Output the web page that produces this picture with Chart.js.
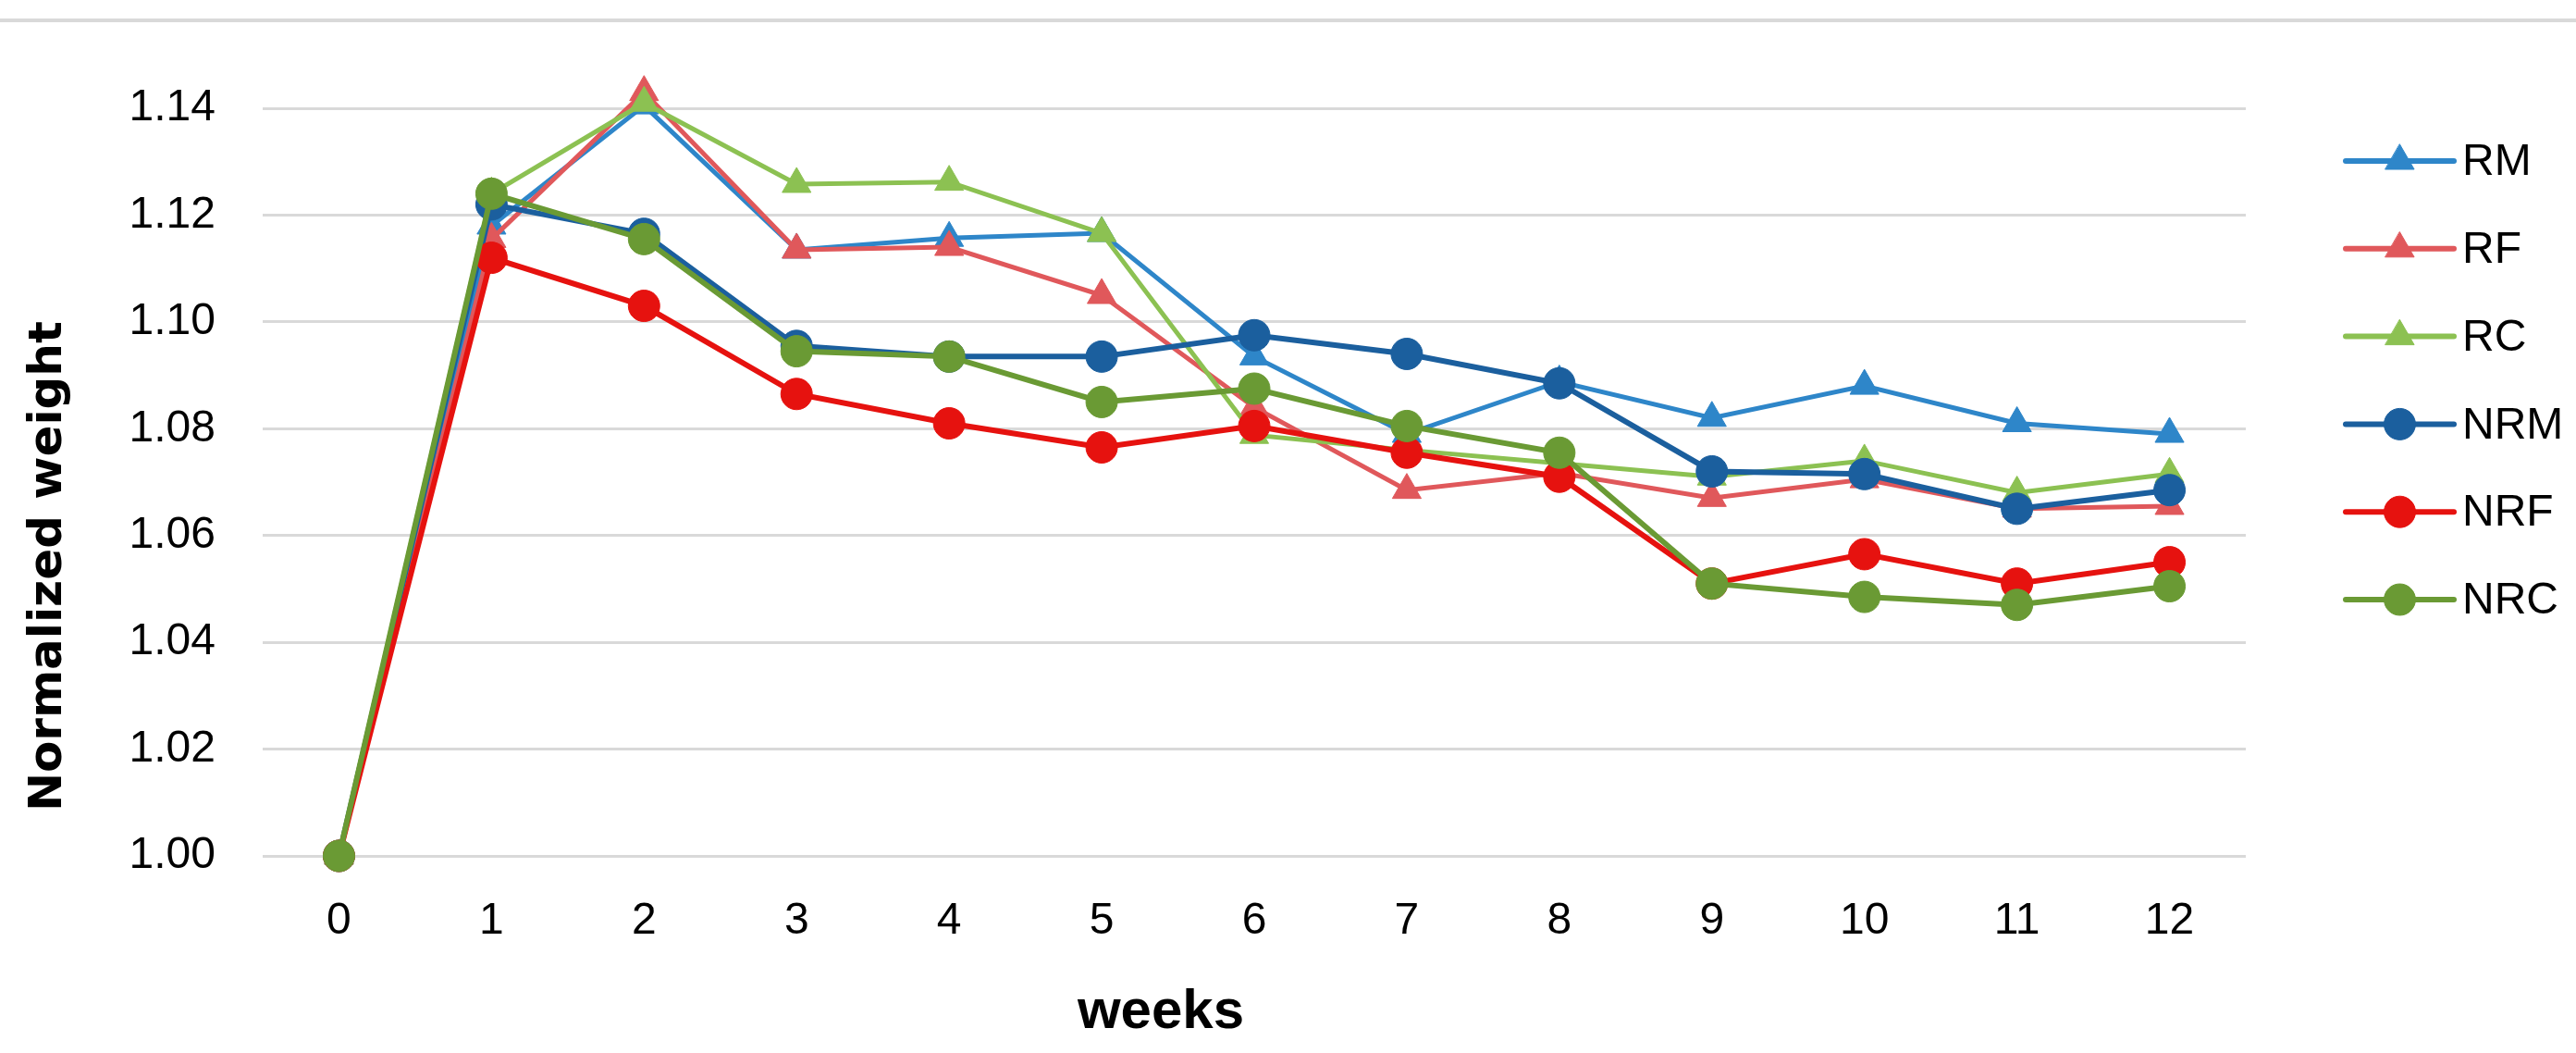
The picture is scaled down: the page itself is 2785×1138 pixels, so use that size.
<!DOCTYPE html>
<html>
<head>
<meta charset="utf-8">
<title>Normalized weight</title>
<script src="https://cdn.jsdelivr.net/npm/chart.js@4.4.1/dist/chart.umd.min.js"></script>
<style>
  html, body { margin: 0; padding: 0; background: #ffffff; }
  #wrap { position: relative; width: 2785px; height: 1138px; }
</style>
</head>
<body>
<div id="wrap">
  <canvas id="chart"></canvas>
</div>
<script>
// weeks on the x axis
const weeks = ["0", "1", "2", "3", "4", "5", "6", "7", "8", "9", "10", "11", "12"];
const yTicks = [1.0, 1.02, 1.04, 1.06, 1.08, 1.1, 1.12, 1.14];

// values
const rm = [1.0, 1.118, 1.1405, 1.1135, 1.1157, 1.1166, 1.0935, 1.079, 1.0888, 1.082, 1.088, 1.081, 1.079];
const rf = [1.0, 1.1155, 1.143, 1.1135, 1.114, 1.105, 1.084, 1.0685, 1.0717, 1.067, 1.0705, 1.065, 1.0655];
const rc = [1.0, 1.124, 1.141, 1.1258, 1.1262, 1.1166, 1.0788, 1.076, 1.0735, 1.071, 1.074, 1.068, 1.0715];
const nrm = [1.0, 1.122, 1.1165, 1.0955, 1.0935, 1.0935, 1.0975, 1.094, 1.0885, 1.072, 1.0715, 1.065, 1.0685];
const nrf = [1.0, 1.112, 1.103, 1.0865, 1.081, 1.0765, 1.0805, 1.0755, 1.071, 1.051, 1.0565, 1.051, 1.055];
const nrc = [1.0, 1.124, 1.1155, 1.0945, 1.0935, 1.085, 1.0875, 1.0805, 1.0755, 1.051, 1.0485, 1.047, 1.0505];

const seriesNames = ["RM", "RF", "RC", "NRM", "NRF", "NRC"];
const seriesData = [rm, rf, rc, nrm, nrf, nrc];
const seriesColors = ["#2E86C9", "#E0585B", "#8CC152", "#1B5F9E", "#E6120F", "#6A9A34"];
const seriesMarkers = ["triangle", "triangle", "triangle", "circle", "circle", "circle"];

const sans = "'Liberation Sans', Arial, sans-serif";

function markerRadius(style) {
  return style === "triangle" ? 18 : 17;
}

// Excel draws the later series on top, chart.js draws low "order" on top
const datasets = seriesNames.map((name, i) => ({
  label: name,
  data: seriesData[i],
  borderColor: seriesColors[i],
  backgroundColor: seriesColors[i],
  pointBackgroundColor: seriesColors[i],
  pointBorderColor: seriesColors[i],
  pointStyle: seriesMarkers[i],
  pointRadius: markerRadius(seriesMarkers[i]),
  pointBorderWidth: 1,
  borderWidth: i >= 3 ? 6 : 5,
  tension: 0,
  clip: false,
  order: seriesNames.length - 1 - i,
}));

// thin grey rule along the top edge
const topRule = {
  id: "topRule",
  beforeDraw(chart) {
    const ctx = chart.ctx;
    ctx.save();
    ctx.fillStyle = "#d9d9d9";
    ctx.fillRect(0, 20, chart.width, 4);
    ctx.restore();
  },
};

// axis titles sit off-centre in the original, so place them by hand
const axisTitles = {
  id: "axisTitles",
  afterDraw(chart) {
    const ctx = chart.ctx;
    ctx.save();
    ctx.fillStyle = "#000000";
    ctx.textAlign = "center";
    ctx.textBaseline = "middle";
    ctx.font = "bold 60px " + sans;
    ctx.fillText("weeks", 1255, 1094);
    ctx.translate(53, 612);
    ctx.rotate(-Math.PI / 2);
    ctx.font = "bold 50px 'DejaVu Sans', sans-serif";
    ctx.fillText("Normalized weight", 0, 0);
    ctx.restore();
  },
};

// legend on the right: line with the marker in the middle
const sideLegend = {
  id: "sideLegend",
  afterDraw(chart) {
    const ctx = chart.ctx;
    const x0 = 2536, x1 = 2653, textX = 2662;
    ctx.save();
    seriesNames.forEach((name, i) => {
      const y = 174 + i * 94.8;
      ctx.strokeStyle = seriesColors[i];
      ctx.lineWidth = 6;
      ctx.lineCap = "round";
      ctx.beginPath();
      ctx.moveTo(x0, y);
      ctx.lineTo(x1, y);
      ctx.stroke();
      ctx.fillStyle = seriesColors[i];
      ctx.strokeStyle = seriesColors[i];
      ctx.lineWidth = 1;
      Chart.helpers.drawPoint(ctx, {
        pointStyle: seriesMarkers[i],
        radius: markerRadius(seriesMarkers[i]),
        rotation: 0,
        borderWidth: 1,
      }, (x0 + x1) / 2, y);
      ctx.fillStyle = "#000000";
      ctx.font = "48px " + sans;
      ctx.textAlign = "left";
      ctx.textBaseline = "middle";
      ctx.fillText(name, textX, y + 2);
    });
    ctx.restore();
  },
};

new Chart(document.getElementById("chart"), {
  type: "line",
  data: { labels: weeks, datasets: datasets },
  options: {
    responsive: true,
    maintainAspectRatio: false,
    animation: false,
    layout: { padding: { top: 117, right: 357, left: 0, bottom: 0 } },
    plugins: {
      legend: { display: false },
      tooltip: { enabled: false },
    },
    scales: {
      x: {
        offset: true,
        grid: { display: false },
        border: { display: false },
        ticks: {
          color: "#000000",
          padding: 34,
          maxRotation: 0,
          font: { family: sans, size: 48 },
        },
        afterFit(scale) { scale.height = 213; },
      },
      y: {
        min: yTicks[0],
        max: yTicks[yTicks.length - 1],
        afterBuildTicks(scale) {
          scale.ticks = yTicks.map((v) => ({ value: v }));
        },
        grid: { color: "#d9d9d9", lineWidth: 3, drawTicks: false },
        border: { display: false },
        ticks: {
          color: "#000000",
          padding: 51,
          font: { family: sans, size: 48 },
          callback: (v) => Number(v).toFixed(2),
        },
        afterFit(scale) { scale.width = 284; },
      },
    },
  },
  plugins: [topRule, axisTitles, sideLegend],
});
</script>
</body>
</html>
